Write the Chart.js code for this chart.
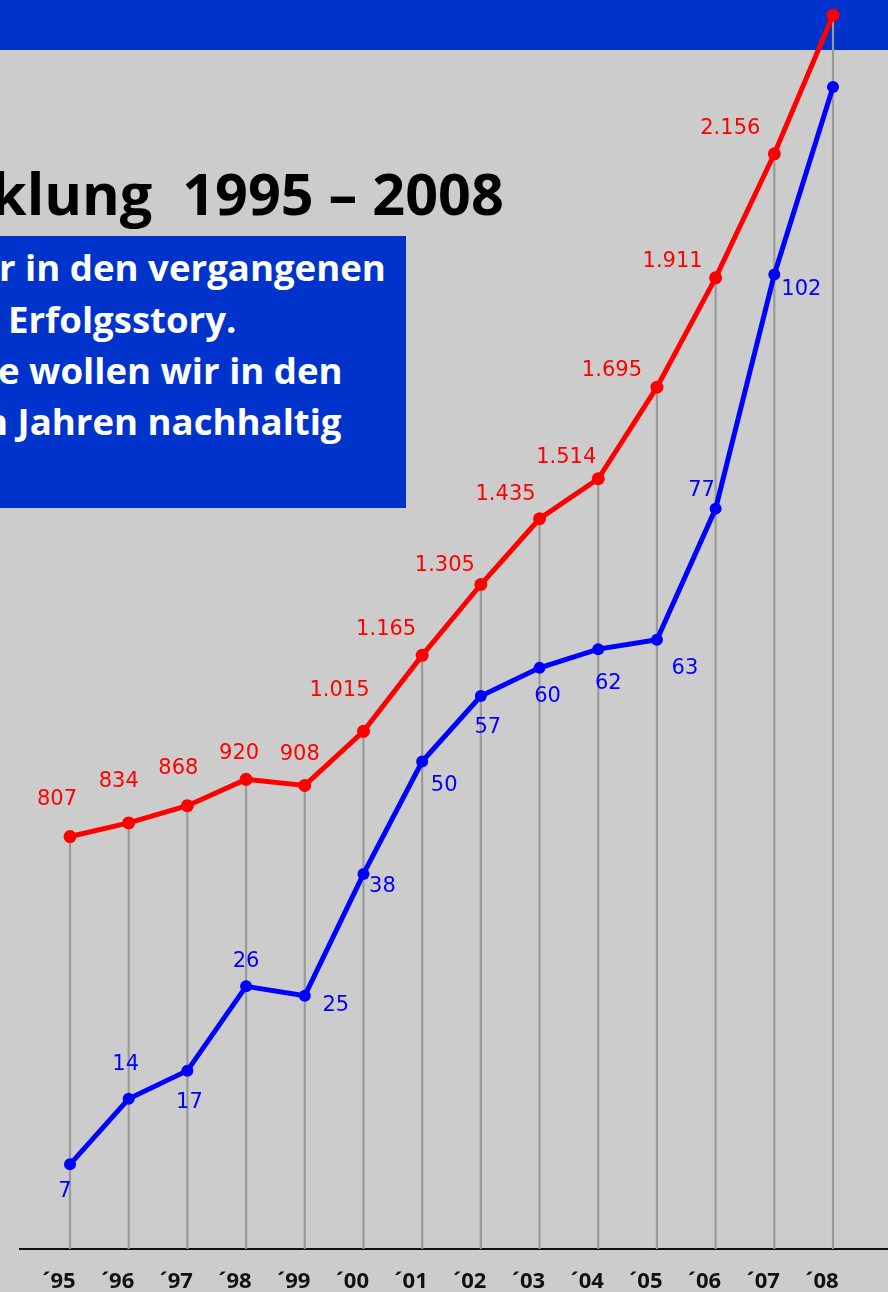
<!DOCTYPE html>
<html>
<head>
<meta charset="utf-8">
<script src="https://cdn.jsdelivr.net/npm/chart.js@4.4.0/dist/chart.umd.min.js"></script>
<style>
  html, body { margin: 0; padding: 0; }
  body { width: 888px; height: 1292px; overflow: hidden; background: #cccccc; position: relative; }
  #band { position: absolute; left: 0; top: 0; width: 888px; height: 50px; background: #0033cc; }
  #title { position: absolute; left: -9px; top: 165px; font: bold 57.5px/57px "Open Sans", sans-serif; color: #000; white-space: pre; }
  #box { position: absolute; left: 0; top: 236px; width: 406px; height: 272px; background: #0033cc; overflow: hidden; }
  #box div { position: absolute; font: bold 36.6px/51px "Open Sans", sans-serif; color: #fff; white-space: pre; }
  #chart { position: absolute; left: 0; top: 0; }
</style>
</head>
<body>
<div id="band"></div>
<div id="title">klung  1995 – 2008</div>
<div id="box">
  <div style="left:-1px; top:6px">r in den vergangenen</div>
  <div style="left:8px; top:58px">Erfolgsstory.</div>
  <div style="left:-2px; top:109px">e wollen wir in den</div>
  <div style="left:-16px; top:160px">n Jahren nachhaltig</div>
</div>
<canvas id="chart" width="888" height="1292"></canvas>
<script>
// Daten
const years = [1995, 1996, 1997, 1998, 1999, 2000, 2001, 2002, 2003, 2004, 2005, 2006, 2007, 2008];
const yearLabels = ["´95", "´96", "´97", "´98", "´99", "´00", "´01", "´02", "´03", "´04", "´05", "´06", "´07", "´08"];
const redValues = [807, 834, 868, 920, 908, 1015, 1165, 1305, 1435, 1514, 1695, 1911, 2156, 2430];
const blueValues = [7, 14, 17, 26, 25, 38, 50, 57, 60, 62, 63, 77, 102, 122];
const redLabels = ["807", "834", "868", "920", "908", "1.015", "1.165", "1.305", "1.435", "1.514", "1.695", "1.911", "2.156", ""];
const blueLabels = ["7", "14", "17", "26", "25", "38", "50", "57", "60", "62", "63", "77", "102", ""];

// Lage der Beschriftungen relativ zum Punkt
const redOffsets = [[-13, -37], [-10, -41], [-9, -37], [-7, -26], [-5, -31], [-24, -41], [-36, -26],
  [-36, -19], [-34, -24], [-32, -21], [-45, -17], [-43, -16], [-44, -25], [0, 0]];
const blueOffsets = [[-5, 27], [-3, -34], [2, 32], [0, -25], [31, 10], [19, 13], [22, 24],
  [7, 32], [8, 29], [10, 34], [28, 29], [-14, -18], [27, 15], [0, 0]];

const RED = '#ff0000';
const BLUE = '#0000ff';
const RED_MIN = -8, RED_MAX = 2460;

const pointLabels = {
  id: 'pointLabels',
  afterDatasetsDraw(chart) {
    const ctx = chart.ctx;
    ctx.save();
    ctx.font = '21px "DejaVu Sans", sans-serif';
    ctx.textAlign = 'center';
    ctx.textBaseline = 'middle';
    [[0, redLabels, redOffsets, RED], [1, blueLabels, blueOffsets, BLUE]].forEach(function (d) {
      const meta = chart.getDatasetMeta(d[0]);
      meta.data.forEach(function (pt, i) {
        if (!d[1][i]) return;
        ctx.fillStyle = d[3];
        ctx.fillText(d[1][i], pt.x + d[2][i][0], pt.y + d[2][i][1]);
      });
    });
    ctx.restore();
  }
};

const ctx = document.getElementById('chart').getContext('2d');
const myChart = new Chart(ctx, {
  data: {
    datasets: [{
      type: 'line',
      label: 'rot',
      data: years.map((y, i) => ({ x: y, y: redValues[i] })),
      yAxisID: 'yRed',
      borderColor: RED,
      backgroundColor: RED,
      borderWidth: 5,
      pointRadius: 6.5,
      pointBorderWidth: 0,
      clip: false,
      order: 1
    }, {
      type: 'line',
      label: 'blau',
      data: years.map((y, i) => ({ x: y, y: blueValues[i] })),
      yAxisID: 'yBlue',
      borderColor: BLUE,
      backgroundColor: BLUE,
      borderWidth: 5,
      pointRadius: 6,
      pointBorderWidth: 0,
      clip: false,
      order: 2
    }, {
      type: 'bar',
      label: 'linien',
      data: years.map((y, i) => ({ x: y, y: [RED_MIN, redValues[i]] })),
      yAxisID: 'yRed',
      backgroundColor: '#999999',
      barThickness: 1.5,
      order: 3
    }]
  },
  options: {
    responsive: false,
    devicePixelRatio: 1,
    animation: false,
    layout: { autoPadding: false, padding: { left: 20, right: 0, top: 0, bottom: 0 } },
    plugins: { legend: { display: false }, tooltip: { enabled: false } },
    scales: {
      x: {
        type: 'linear',
        offset: false,
        min: 1994.148,
        max: 2008.937,
        grid: { display: false, drawTicks: false, offset: false },
        border: { display: true, color: '#111111', width: 2 },
        afterBuildTicks: function (s) { s.ticks = years.map(v => ({ value: v })); },
        afterFit: function (s) { s.height = 43; },
        ticks: {
          padding: 20,
          labelOffset: -11,
          maxRotation: 0,
          color: '#111111',
          font: { family: '"Open Sans", sans-serif', size: 22, weight: 'bold' },
          callback: function (v) { return yearLabels[years.indexOf(v)]; }
        }
      },
      yRed: { display: false, min: RED_MIN, max: RED_MAX },
      yBlue: { display: false, min: -2.04, max: 131.3 }
    }
  },
  plugins: [pointLabels]
});
</script>
</body>
</html>
